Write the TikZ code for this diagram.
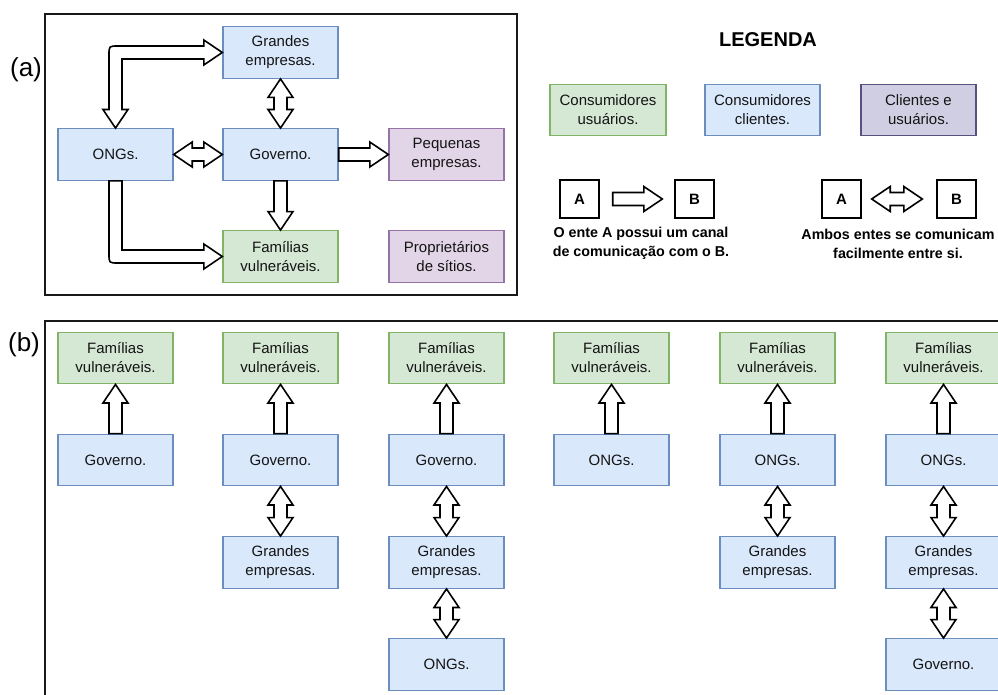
\documentclass[tikz,border=0pt]{standalone}
\usepackage{fontspec}
\setmainfont{Liberation Sans}
\usetikzlibrary{calc}

\definecolor{bluefill}{HTML}{DAE8FC}
\definecolor{bluedraw}{HTML}{6C8EBF}
\definecolor{greenfill}{HTML}{D5E8D4}
\definecolor{greendraw}{HTML}{82B366}
\definecolor{purplefill}{HTML}{E1D5E7}
\definecolor{purpledraw}{HTML}{9673A6}
\definecolor{lilacfill}{HTML}{D0CEE2}
\definecolor{lilacdraw}{HTML}{56517E}

% block-arrow geometry
\newcommand{\arrHead}{18.5pt}
\newcommand{\arrHalf}{12.5pt}
\newcommand{\arrBody}{6.5pt}

% hollow single block arrow: tail at #1, tip at #2
\newcommand{\blockarrow}[2]{%
  \coordinate (hb) at ($(#2)!\arrHead!(#1)$);
  \draw[flexarrow] ($(#1)!\arrBody!90:(#2)$) -- ($(hb)!\arrBody!90:(#2)$)
    -- ($(hb)!\arrHalf!90:(#2)$) -- (#2) -- ($(hb)!\arrHalf!-90:(#2)$)
    -- ($(hb)!\arrBody!-90:(#2)$) -- ($(#1)!\arrBody!-90:(#2)$) -- cycle;}

% hollow double block arrow between #1 and #2
\newcommand{\dblarrow}[2]{%
  \coordinate (ha) at ($(#1)!\arrHead!(#2)$);
  \coordinate (hb) at ($(#2)!\arrHead!(#1)$);
  \draw[flexarrow] (#1) -- ($(ha)!\arrHalf!90:(#2)$) -- ($(ha)!\arrBody!90:(#2)$)
    -- ($(hb)!\arrBody!90:(#2)$) -- ($(hb)!\arrHalf!90:(#2)$) -- (#2)
    -- ($(hb)!\arrHalf!-90:(#2)$) -- ($(hb)!\arrBody!-90:(#2)$)
    -- ($(ha)!\arrBody!-90:(#2)$) -- ($(ha)!\arrHalf!-90:(#2)$) -- cycle;}

\tikzset{
  box/.style={draw, line width=1.4pt, minimum width=115pt, minimum height=51.5pt,
    inner sep=0pt, align=center, font=\fontsize{15}{19}\selectfont, text=black!92},
  bluebox/.style={box, fill=bluefill, draw=bluedraw},
  greenbox/.style={box, fill=greenfill, draw=greendraw},
  purplebox/.style={box, fill=purplefill, draw=purpledraw},
  lilacbox/.style={box, fill=lilacfill, draw=lilacdraw},
  letterbox/.style={draw, line width=1.4pt, minimum width=39pt, minimum height=38pt,
    inner sep=0pt, font=\fontsize{15}{18}\selectfont\bfseries},
  caption/.style={align=center, font=\fontsize{14.3}{19}\selectfont\bfseries},
  panel/.style={font=\fontsize{26}{30}\selectfont},
  frame/.style={draw=black!90, line width=1.5pt},
  flexarrow/.style={draw=black, fill=white, line width=1.6pt},
}

\begin{document}
\begin{tikzpicture}[x=1pt, y=-1pt]
\useasboundingbox (0,0) rectangle (998,695);
\clip (0,0) rectangle (998,695);

% ---------- panel (a) ----------
\draw[frame] (45,14) rectangle (517,295);
\node[panel] (pa) at (26,70) {(a)};

\node[bluebox]   (gra)  at (280.5,52.5)  {Grandes\\empresas.};
\node[bluebox]   (ongs) at (115.5,154.5) {ONGs.};
\node[bluebox]   (gov)  at (280.5,154.5) {Governo.};
\node[purplebox] (peq)  at (446.5,154.5) {Pequenas\\empresas.};
\node[greenbox]  (fam)  at (280.5,256.5) {Famílias\\vulneráveis.};
\node[purplebox] (prop) at (446.5,256.5) {Proprietários\\de sítios.};

\dblarrow{gra.south}{gov.north}
\dblarrow{ongs.east}{gov.west}
\blockarrow{gov.east}{peq.west}
\blockarrow{gov.south}{fam.north}

% bent double arrow ONGs <-> Grandes empresas
\coordinate (k1) at (ongs.north |- gra.west);
\draw[flexarrow] (ongs.north) -- ($(ongs.north)+(12.5,-18.5)$) -- ($(ongs.north)+(6.5,-18.5)$)
  -- ($(k1)+(6.5,6.5)$) -- ($(gra.west)+(-18.5,6.5)$) -- ($(gra.west)+(-18.5,12.5)$)
  -- (gra.west) -- ($(gra.west)+(-18.5,-12.5)$) -- ($(gra.west)+(-18.5,-6.5)$)
  -- ($(k1)+(2.5,-6.5)$) .. controls ($(k1)+(-6.5,-6.5)$) .. ($(k1)+(-6.5,2.5)$)
  -- ($(ongs.north)+(-6.5,-18.5)$) -- ($(ongs.north)+(-12.5,-18.5)$) -- cycle;

% bent single arrow ONGs -> Famílias
\coordinate (k2) at (ongs.south |- fam.west);
\draw[flexarrow] ($(ongs.south)+(-6.5,0)$) -- ($(k2)+(-6.5,-2.5)$)
  .. controls ($(k2)+(-6.5,6.5)$) .. ($(k2)+(2.5,6.5)$)
  -- ($(fam.west)+(-18.5,6.5)$) -- ($(fam.west)+(-18.5,12.5)$) -- (fam.west)
  -- ($(fam.west)+(-18.5,-12.5)$) -- ($(fam.west)+(-18.5,-6.5)$)
  -- ($(k2)+(6.5,-6.5)$) -- ($(ongs.south)+(6.5,0)$) -- cycle;

% ---------- legend ----------
\node[font=\fontsize{20}{24}\selectfont\bfseries] (leg) at (768,40) {LEGENDA};
\node[greenbox, minimum width=116pt] (lg1) at (608,110)   {Consumidores\\usuários.};
\node[bluebox]  (lg2) at (762.5,110) {Consumidores\\clientes.};
\node[lilacbox] (lg3) at (918.5,110) {Clientes e\\usuários.};

\node[letterbox] (la1) at (579.5,199) {A};
\node[letterbox] (lb1) at (694.5,199) {B};
\node[letterbox] (la2) at (841.5,199) {A};
\node[letterbox] (lb2) at (956.5,199) {B};
\coordinate (s1) at ($(la1.east)+(13,0)$);
\coordinate (e1) at ($(lb1.west)+(-12,0)$);
\coordinate (s2) at ($(la2.east)+(10,0)$);
\coordinate (e2) at ($(lb2.west)+(-14,0)$);
\blockarrow{s1}{e1}
\dblarrow{s2}{e2}
\node[caption] (cap1) at (641,243.5) {O ente A possui um canal\\de comunicação com o B.};
\node[caption] (cap2) at (898,243.5) {Ambos entes se comunicam\\facilmente entre si.};

% ---------- panel (b) ----------
\draw[frame] (1010,321) -- (45,321) -- (45,710);
\node[panel] (pb) at (24,345) {(b)};

% column 1
\node[greenbox] (f1) at (115.5,358) {Famílias\\vulneráveis.};
\node[bluebox]  (g1) at (115.5,460) {Governo.};
\blockarrow{g1.north}{f1.south}
% column 2
\node[greenbox] (f2) at (280.5,358) {Famílias\\vulneráveis.};
\node[bluebox]  (g2) at (280.5,460) {Governo.};
\node[bluebox]  (e2b) at (280.5,562.5) {Grandes\\empresas.};
\blockarrow{g2.north}{f2.south}
\dblarrow{g2.south}{e2b.north}
% column 3
\node[greenbox] (f3) at (446.5,358) {Famílias\\vulneráveis.};
\node[bluebox]  (g3) at (446.5,460) {Governo.};
\node[bluebox]  (e3) at (446.5,562.5) {Grandes\\empresas.};
\node[bluebox]  (o3) at (446.5,664.5) {ONGs.};
\blockarrow{g3.north}{f3.south}
\dblarrow{g3.south}{e3.north}
\dblarrow{e3.south}{o3.north}
% column 4
\node[greenbox] (f4) at (611.5,358) {Famílias\\vulneráveis.};
\node[bluebox]  (o4) at (611.5,460) {ONGs.};
\blockarrow{o4.north}{f4.south}
% column 5
\node[greenbox] (f5) at (777.5,358) {Famílias\\vulneráveis.};
\node[bluebox]  (o5) at (777.5,460) {ONGs.};
\node[bluebox]  (e5) at (777.5,562.5) {Grandes\\empresas.};
\blockarrow{o5.north}{f5.south}
\dblarrow{o5.south}{e5.north}
% column 6
\node[greenbox] (f6) at (943.5,358) {Famílias\\vulneráveis.};
\node[bluebox]  (o6) at (943.5,460) {ONGs.};
\node[bluebox]  (e6) at (943.5,562.5) {Grandes\\empresas.};
\node[bluebox]  (g6) at (943.5,664.5) {Governo.};
\blockarrow{o6.north}{f6.south}
\dblarrow{o6.south}{e6.north}
\dblarrow{e6.south}{g6.north}
\end{tikzpicture}
\end{document}
